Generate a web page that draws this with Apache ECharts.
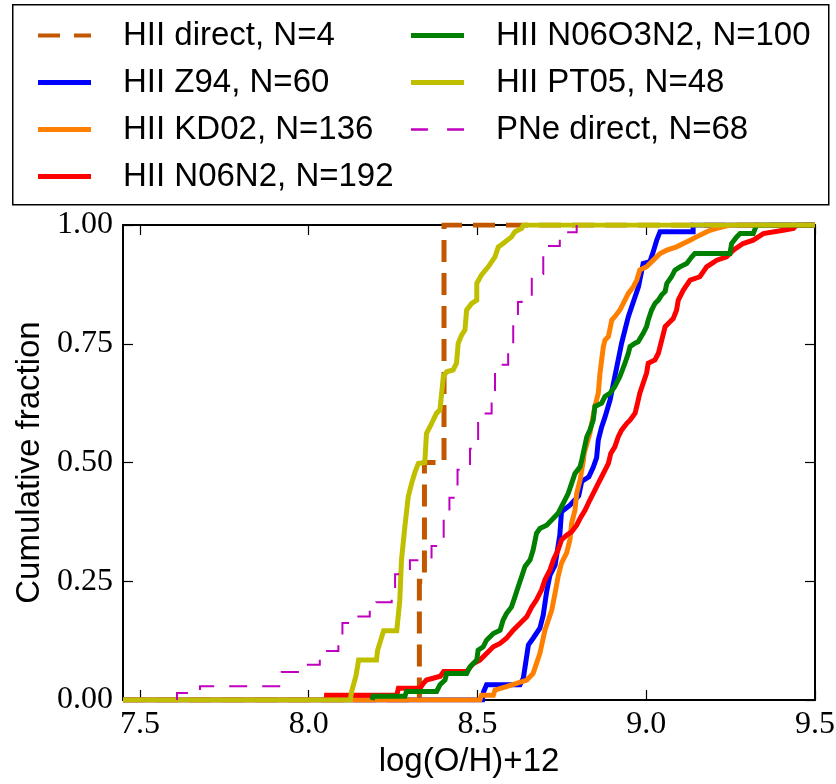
<!DOCTYPE html>
<html>
<head>
<meta charset="utf-8">
<script src="https://cdn.jsdelivr.net/npm/echarts@6/dist/echarts.min.js"></script>
<style>
  html, body { margin: 0; padding: 0; background: #fff; }
  #chart { width: 836px; height: 784px; }
</style>
</head>
<body>
<div id="chart"></div>
<script>
// ── Data: [log(O/H)+12, cumulative fraction] ─────────────────────────────

const xTicks = [7.5, 8.0, 8.5, 9.0, 9.5];
const yTicks = [0, 0.25, 0.5, 0.75, 1.0];

// step functions (value holds from x until the next point)
const hiiDirect = [[7.45, 0], [8.328, 0.25], [8.343, 0.5], [8.401, 0.75], [8.401, 1.0], [9.5, 1.0]];

const pneDirect = [
  [7.61, 0], [7.61, 0.015], [7.678, 0.029], [7.92, 0.059], [7.979, 0.074], [8.033, 0.103],
  [8.088, 0.118], [8.10, 0.162], [8.137, 0.176], [8.181, 0.191], [8.20, 0.206], [8.246, 0.221],
  [8.256, 0.265], [8.30, 0.294], [8.364, 0.324], [8.40, 0.382], [8.417, 0.426], [8.441, 0.485],
  [8.478, 0.529], [8.502, 0.603], [8.542, 0.647], [8.552, 0.706], [8.591, 0.75], [8.606, 0.809],
  [8.62, 0.838], [8.631, 0.853], [8.661, 0.897], [8.695, 0.956], [8.744, 0.985], [8.794, 1.0]
];

// dense curves traced vertex by vertex
const hiiZ94 = [
  [7.45, 0], [8.515, 0], [8.518, 0.017], [8.527, 0.032], [8.626, 0.032], [8.636, 0.046],
  [8.651, 0.116], [8.665, 0.13], [8.685, 0.151], [8.695, 0.179], [8.705, 0.228], [8.715, 0.263],
  [8.73, 0.284], [8.744, 0.347], [8.749, 0.396], [8.774, 0.41], [8.8, 0.43], [8.809, 0.46],
  [8.83, 0.47], [8.843, 0.49], [8.853, 0.51], [8.858, 0.547], [8.868, 0.575], [8.878, 0.596],
  [8.893, 0.632], [8.907, 0.681], [8.917, 0.716], [8.927, 0.751], [8.937, 0.779], [8.947, 0.807],
  [8.967, 0.849], [8.977, 0.87], [8.991, 0.919], [9.011, 0.923], [9.021, 0.944], [9.031, 0.968],
  [9.041, 0.986], [9.139, 0.986], [9.139, 1.0], [9.5, 1.0]
];

const hiiKD02 = [
  [7.45, 0], [8.507, 0], [8.512, 0.01], [8.547, 0.01], [8.552, 0.021], [8.586, 0.028],
  [8.616, 0.035], [8.646, 0.042], [8.665, 0.056], [8.675, 0.077], [8.685, 0.098], [8.70, 0.147],
  [8.71, 0.168], [8.72, 0.189], [8.73, 0.225], [8.739, 0.26], [8.749, 0.288], [8.764, 0.309],
  [8.774, 0.337], [8.779, 0.372], [8.789, 0.40], [8.794, 0.435], [8.804, 0.463], [8.814, 0.505],
  [8.816, 0.519], [8.833, 0.561], [8.848, 0.618], [8.858, 0.646], [8.863, 0.688], [8.868, 0.716],
  [8.873, 0.744], [8.878, 0.758], [8.888, 0.765], [8.898, 0.80], [8.907, 0.807], [8.922, 0.821],
  [8.937, 0.842], [8.947, 0.856], [8.962, 0.87], [8.972, 0.884], [8.981, 0.905], [9.001, 0.912],
  [9.021, 0.926], [9.041, 0.94], [9.061, 0.947], [9.09, 0.954], [9.11, 0.961], [9.13, 0.968],
  [9.149, 0.975], [9.169, 0.982], [9.189, 0.989], [9.209, 0.993], [9.248, 1.0], [9.5, 1.0]
];

const hiiN06N2 = [
  [8.052, 0], [8.053, 0.01], [8.261, 0.01], [8.266, 0.025], [8.33, 0.025], [8.34, 0.035],
  [8.349, 0.042], [8.39, 0.05], [8.40, 0.06], [8.468, 0.06], [8.488, 0.077], [8.507, 0.084],
  [8.527, 0.098], [8.547, 0.112], [8.567, 0.119], [8.586, 0.13], [8.606, 0.147], [8.626, 0.161],
  [8.646, 0.175], [8.661, 0.196], [8.675, 0.211], [8.69, 0.232], [8.70, 0.253], [8.715, 0.274],
  [8.725, 0.295], [8.739, 0.316], [8.749, 0.337], [8.764, 0.347], [8.779, 0.354], [8.794, 0.368],
  [8.804, 0.382], [8.819, 0.40], [8.833, 0.421], [8.848, 0.442], [8.858, 0.456], [8.868, 0.47],
  [8.878, 0.484], [8.888, 0.498], [8.895, 0.519], [8.907, 0.533], [8.917, 0.554], [8.927, 0.568],
  [8.942, 0.582], [8.952, 0.589], [8.967, 0.604], [8.972, 0.618], [8.981, 0.646], [8.991, 0.667],
  [9.001, 0.688], [9.006, 0.709], [9.026, 0.716], [9.036, 0.73], [9.041, 0.744], [9.051, 0.772],
  [9.056, 0.786], [9.066, 0.793], [9.08, 0.803], [9.09, 0.821], [9.095, 0.842], [9.11, 0.863],
  [9.13, 0.884], [9.159, 0.891], [9.179, 0.912], [9.209, 0.926], [9.238, 0.933], [9.258, 0.947],
  [9.287, 0.961], [9.317, 0.968], [9.347, 0.982], [9.406, 0.989], [9.436, 0.993], [9.446, 1.0],
  [9.5, 1.0]
];

const hiiN06O3N2 = [
  [8.188, 0], [8.191, 0.008], [8.285, 0.008], [8.29, 0.018], [8.379, 0.018], [8.389, 0.032],
  [8.404, 0.042], [8.409, 0.056], [8.468, 0.056], [8.478, 0.07], [8.498, 0.084], [8.502, 0.105],
  [8.517, 0.112], [8.527, 0.126], [8.547, 0.14], [8.567, 0.147], [8.576, 0.168], [8.586, 0.182],
  [8.601, 0.196], [8.611, 0.217], [8.621, 0.239], [8.631, 0.26], [8.641, 0.281], [8.656, 0.295],
  [8.665, 0.316], [8.675, 0.351], [8.685, 0.361], [8.705, 0.368], [8.72, 0.379], [8.739, 0.393],
  [8.749, 0.407], [8.759, 0.421], [8.769, 0.435], [8.779, 0.456], [8.789, 0.477], [8.804, 0.491],
  [8.809, 0.505], [8.824, 0.554], [8.833, 0.568], [8.843, 0.589], [8.848, 0.618], [8.868, 0.625],
  [8.878, 0.639], [8.893, 0.646], [8.907, 0.66], [8.922, 0.681], [8.937, 0.709], [8.947, 0.73],
  [8.952, 0.744], [8.967, 0.751], [8.976, 0.754], [8.991, 0.772], [9.001, 0.786], [9.006, 0.80],
  [9.016, 0.821], [9.026, 0.835], [9.036, 0.842], [9.046, 0.853], [9.056, 0.86], [9.061, 0.877],
  [9.075, 0.891], [9.085, 0.905], [9.10, 0.912], [9.12, 0.919], [9.135, 0.933], [9.144, 0.94],
  [9.248, 0.94], [9.253, 0.961], [9.268, 0.975], [9.278, 0.982], [9.317, 0.982], [9.327, 1.0],
  [9.5, 1.0]
];

const hiiPT05 = [
  [7.45, 0], [8.123, 0], [8.128, 0.02], [8.14, 0.05], [8.148, 0.084], [8.201, 0.084],
  [8.204, 0.104], [8.213, 0.125], [8.222, 0.146], [8.261, 0.146], [8.27, 0.21], [8.275, 0.295],
  [8.285, 0.365], [8.295, 0.428], [8.305, 0.456], [8.315, 0.48], [8.325, 0.498], [8.344, 0.50],
  [8.349, 0.561], [8.364, 0.582], [8.379, 0.604], [8.389, 0.611], [8.399, 0.681], [8.409, 0.691],
  [8.428, 0.695], [8.438, 0.709], [8.443, 0.751], [8.453, 0.768], [8.463, 0.779], [8.468, 0.821],
  [8.483, 0.835], [8.498, 0.842], [8.498, 0.877], [8.512, 0.895], [8.532, 0.912], [8.552, 0.933],
  [8.562, 0.954], [8.576, 0.961], [8.601, 0.975], [8.611, 0.986], [8.631, 0.993], [8.636, 1.0],
  [9.5, 1.0]
];

const seriesNames = [
  "HII direct, N=4", "HII Z94, N=60", "HII KD02, N=136", "HII N06N2, N=192",
  "HII N06O3N2, N=100", "HII PT05, N=48", "PNe direct, N=68"
];

// ── Chart ──────────────────────────────────────────────────────────────

const chart = echarts.init(document.getElementById("chart"), null, { renderer: "canvas" });

const tickFont = "'Liberation Serif', 'DejaVu Serif', serif";
const sansFont = "'Liberation Sans', Arial, sans-serif";

const SOLID_ICON = "path://M0,0H53V5H0Z";
const BROWN_ICON = "path://M0,0.5H22V4.5H0Z M36,0.5H53V4.5H36Z";
const PNE_ICON = "path://M0,1.5H15V3.5H0Z M32,1.5H47V3.5H32Z";

function lineSeries(name, data, color, width, dash, step) {
  return {
    name,
    type: "line",
    data,
    step: step || false,
    symbol: "none",
    showSymbol: false,
    clip: true,
    silent: true,
    animation: false,
    itemStyle: { color },
    lineStyle: { color, width, type: dash || "solid", cap: "butt", join: "miter" },
    emphasis: { disabled: true },
  };
}

const legendCommon = {
  orient: "vertical",
  itemWidth: 53,
  itemHeight: 5,
  itemGap: 14,
  selectedMode: false,
  itemStyle: { borderWidth: 0 },
  textStyle: { fontFamily: sansFont, fontSize: 33, color: "#000", padding: [0, 0, 0, 27] },
};

chart.setOption({
  backgroundColor: "#fff",
  animation: false,
  graphic: [
    {
      type: "rect",
      left: 12,
      top: 4,
      shape: { width: 816, height: 200 },
      style: { fill: "#fff", stroke: "#000", lineWidth: 1.5 },
      z: 0,
    },
  ],
  legend: [
    {
      ...legendCommon,
      left: 33,
      top: 14,
      data: [
        { name: seriesNames[0], icon: BROWN_ICON },
        { name: seriesNames[1], icon: SOLID_ICON },
        { name: seriesNames[2], icon: SOLID_ICON },
        { name: seriesNames[3], icon: SOLID_ICON },
      ],
    },
    {
      ...legendCommon,
      left: 406,
      top: 14,
      data: [
        { name: seriesNames[4], icon: SOLID_ICON },
        { name: seriesNames[5], icon: SOLID_ICON },
        { name: seriesNames[6], icon: PNE_ICON },
      ],
    },
  ],
  grid: { left: 123, right: 21, top: 225, bottom: 84, containLabel: false, outerBoundsMode: "none" },
  xAxis: [
    {
      type: "value",
      min: 7.45,
      max: 9.5,
      position: "bottom",
      name: "log(O/H)+12",
      nameLocation: "middle",
      nameGap: 37,
      nameTextStyle: { fontFamily: sansFont, fontSize: 33, color: "#000" },
      axisLine: { show: true, onZero: false, lineStyle: { color: "#000", width: 2 } },
      axisTick: { show: true, inside: true, length: 10, customValues: xTicks, lineStyle: { color: "#000", width: 1.2 } },
      axisLabel: {
        show: true,
        customValues: xTicks,
        formatter: (v) => v.toFixed(1),
        fontFamily: tickFont,
        fontSize: 32,
        color: "#000",
        margin: 9,
      },
      splitLine: { show: false },
    },
    {
      type: "value",
      min: 7.45,
      max: 9.5,
      position: "top",
      axisLine: { show: true, onZero: false, lineStyle: { color: "#000", width: 2 } },
      axisTick: { show: true, inside: true, length: 10, customValues: xTicks, lineStyle: { color: "#000", width: 1.2 } },
      axisLabel: { show: false },
      splitLine: { show: false },
    },
  ],
  yAxis: [
    {
      type: "value",
      min: 0,
      max: 1,
      interval: 0.25,
      position: "left",
      name: "Cumulative fraction",
      nameLocation: "middle",
      nameGap: 73,
      nameTextStyle: { fontFamily: sansFont, fontSize: 33, color: "#000" },
      axisLine: { show: true, onZero: false, lineStyle: { color: "#000", width: 2 } },
      axisTick: { show: true, inside: true, length: 10, lineStyle: { color: "#000", width: 1.2 } },
      axisLabel: {
        formatter: (v) => v.toFixed(2),
        fontFamily: tickFont,
        fontSize: 32,
        color: "#000",
        margin: 10,
      },
      splitLine: { show: false },
    },
    {
      type: "value",
      min: 0,
      max: 1,
      interval: 0.25,
      position: "right",
      axisLine: { show: true, onZero: false, lineStyle: { color: "#000", width: 2 } },
      axisTick: { show: true, inside: true, length: 10, lineStyle: { color: "#000", width: 1.2 } },
      axisLabel: { show: false },
      splitLine: { show: false },
    },
  ],
  series: [
    lineSeries(seriesNames[0], hiiDirect, "#c25700", 5, [22, 11], "end"),
    lineSeries(seriesNames[1], hiiZ94, "#0000ff", 5),
    lineSeries(seriesNames[2], hiiKD02, "#ff8000", 5),
    lineSeries(seriesNames[3], hiiN06N2, "#ff0000", 5),
    lineSeries(seriesNames[4], hiiN06O3N2, "#008000", 5),
    lineSeries(seriesNames[5], hiiPT05, "#bfbf00", 5),
    lineSeries(seriesNames[6], pneDirect, "#bf00bf", 2, [18, 15], "end"),
  ],
});
</script>
</body>
</html>
